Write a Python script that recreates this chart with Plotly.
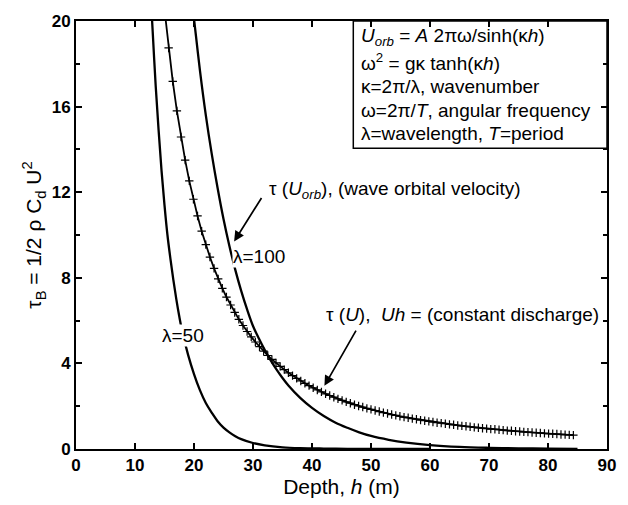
import plotly.graph_objects as go

# Bed shear stress versus water depth
# tau(U): constant-discharge flow (Uh = const), sampled every 0.7 m
depth_u = [15.0, 15.7, 16.4, 17.1, 17.8, 18.5, 19.2, 19.9, 20.6, 21.3,
           22.0, 22.7, 23.4, 24.1, 24.8, 25.5, 26.2, 26.9, 27.6, 28.3,
           29.0, 29.7, 30.4, 31.1, 31.8, 32.5, 33.2, 33.9, 34.6, 35.3,
           36.0, 36.7, 37.4, 38.1, 38.8, 39.5, 40.2, 40.9, 41.6, 42.3,
           43.0, 43.7, 44.4, 45.1, 45.8, 46.5, 47.2, 47.9, 48.6, 49.3,
           50.0, 50.7, 51.4, 52.1, 52.8, 53.5, 54.2, 54.9, 55.6, 56.3,
           57.0, 57.7, 58.4, 59.1, 59.8, 60.5, 61.2, 61.9, 62.6, 63.3,
           64.0, 64.7, 65.4, 66.1, 66.8, 67.5, 68.2, 68.9, 69.6, 70.3,
           71.0, 71.7, 72.4, 73.1, 73.8, 74.5, 75.2, 75.9, 76.6, 77.3,
           78.0, 78.7, 79.4, 80.1, 80.8, 81.5, 82.2, 82.9, 83.6, 84.3]
tau_u = [20.53, 18.74, 17.18, 15.80, 14.58, 13.50, 12.53, 11.67, 10.89, 10.18,
         9.55, 8.97, 8.44, 7.95, 7.51, 7.10, 6.73, 6.38, 6.06, 5.77,
         5.49, 5.24, 5.00, 4.78, 4.57, 4.37, 4.19, 4.02, 3.86, 3.71,
         3.56, 3.43, 3.30, 3.18, 3.07, 2.96, 2.86, 2.76, 2.67, 2.58,
         2.50, 2.42, 2.34, 2.27, 2.20, 2.14, 2.07, 2.01, 1.96, 1.90,
         1.85, 1.80, 1.75, 1.70, 1.66, 1.61, 1.57, 1.53, 1.49, 1.46,
         1.42, 1.39, 1.35, 1.32, 1.29, 1.26, 1.23, 1.21, 1.18, 1.15,
         1.13, 1.10, 1.08, 1.06, 1.04, 1.01, 0.99, 0.97, 0.95, 0.93,
         0.92, 0.90, 0.88, 0.86, 0.85, 0.83, 0.82, 0.80, 0.79, 0.77,
         0.76, 0.75, 0.73, 0.72, 0.71, 0.70, 0.68, 0.67, 0.66, 0.65]

# tau(U_orb) for wavelength 50 m
depth_l50 = [12.6, 13.0, 13.5, 14.0, 14.5, 15.0, 15.5, 16.0, 16.5, 17.0,
             17.5, 18.0, 19.0, 20.0, 21.0, 22.0, 23.0, 24.0, 25.0, 26.0,
             27.0, 28.0, 30.0, 32.0, 35.0, 38.0, 42.0, 46.0, 50.0, 55.0, 60.0]
tau_l50 = [21.5, 19.5, 17.0, 14.9, 13.0, 11.4, 10.0, 8.9, 7.9, 7.0,
           6.2, 5.5, 4.4, 3.5, 2.75, 2.15, 1.7, 1.3, 1.0, 0.78,
           0.6, 0.46, 0.28, 0.17, 0.08, 0.04, 0.02, 0.01, 0.005, 0.002, 0.001]

# tau(U_orb) for wavelength 100 m
depth_l100 = [19.6, 20.0, 20.5, 21.0, 22.0, 23.0, 24.0, 25.0, 26.0, 27.0,
              28.0, 29.0, 30.0, 31.0, 32.0, 33.0, 34.0, 35.0, 36.0, 38.0,
              40.0, 42.0, 44.0, 46.0, 48.0, 50.0, 53.0, 56.0, 60.0, 65.0,
              70.0, 75.0, 80.0, 85.0]
tau_l100 = [21.0, 20.1, 18.9, 17.7, 15.6, 13.8, 12.2, 10.75, 9.49, 8.37,
            7.39, 6.52, 5.75, 5.16, 4.62, 4.14, 3.71, 3.32, 2.97, 2.39,
            1.92, 1.54, 1.23, 0.99, 0.78, 0.61, 0.43, 0.30, 0.185, 0.10,
            0.056, 0.031, 0.017, 0.009]

x_ticks = [0, 10, 20, 30, 40, 50, 60, 70, 80, 90]
y_ticks = [0, 4, 8, 12, 16, 20]

FONT = "Liberation Sans, Arial, sans-serif"
TXT = 19

fig = go.Figure()

fig.add_trace(go.Scatter(
    x=depth_l50, y=tau_l50, mode="lines", line_shape="spline",
    line=dict(color="black", width=2.3), showlegend=False,
))
fig.add_trace(go.Scatter(
    x=depth_l100, y=tau_l100, mode="lines", line_shape="spline",
    line=dict(color="black", width=2.3), showlegend=False,
))
fig.add_trace(go.Scatter(
    x=depth_u, y=tau_u, mode="lines+markers",
    line=dict(color="black", width=1.8),
    marker=dict(symbol="cross-thin", size=6,
                line=dict(color="black", width=1.2)),
    showlegend=False,
))

# Formula box in the upper-right corner
fig.add_shape(type="rect", xref="x", yref="y", x0=47, x1=90, y0=14.05, y1=20,
              line=dict(color="black", width=1.5), fillcolor="white", layer="below")

box_lines = [
    "<i>U</i><sub><i>orb</i></sub> = <i>A</i> 2πω/sinh(κ<i>h</i>)",
    "ω<sup>2</sup> = gκ tanh(κ<i>h</i>)",
    "κ=2π/λ, wavenumber",
    "ω=2π/<i>T</i>, angular frequency",
    "λ=wavelength, <i>T</i>=period",
]
box_y = [19.25, 18.08, 16.93, 15.83, 14.74]
for txt, yy in zip(box_lines, box_y):
    fig.add_annotation(x=48.0, y=yy, xref="x", yref="y", text=txt,
                       showarrow=False, xanchor="left", yanchor="middle",
                       font=dict(family=FONT, size=TXT, color="black"))

# Curve labels (white background breaks the line underneath)
fig.add_annotation(x=18.2, y=5.3, text="λ=50", showarrow=False,
                   bgcolor="white", borderpad=0,
                   font=dict(family=FONT, size=TXT, color="black"))
fig.add_annotation(x=31.0, y=9.0, text="λ=100", showarrow=False,
                   bgcolor="white", borderpad=0,
                   font=dict(family=FONT, size=TXT, color="black"))

# Series descriptions with pointer arrows
fig.add_annotation(x=32.4, y=12.1, xanchor="left", yanchor="middle",
                   text="τ (<i>U</i><sub><i>orb</i></sub>), (wave orbital velocity)",
                   showarrow=False,
                   font=dict(family=FONT, size=TXT, color="black"))
fig.add_annotation(x=26.8, y=9.7, ax=31.6, ay=11.8, axref="x", ayref="y",
                   text="", showarrow=True, arrowhead=2, arrowsize=1.2,
                   arrowwidth=1.7, arrowcolor="black")

fig.add_annotation(x=42.0, y=6.3, xanchor="left", yanchor="middle",
                   text="τ (<i>U</i>),  <i>Uh</i> = (constant discharge)",
                   showarrow=False,
                   font=dict(family=FONT, size=TXT, color="black"))
fig.add_annotation(x=42.1, y=2.95, ax=47.6, ay=5.6, axref="x", ayref="y",
                   text="", showarrow=True, arrowhead=2, arrowsize=1.2,
                   arrowwidth=1.7, arrowcolor="black")

fig.update_layout(
    width=628, height=505,
    margin=dict(l=76, r=14, t=15, b=53),
    paper_bgcolor="white", plot_bgcolor="white",
    font=dict(family=FONT, color="black"),
)

fig.update_xaxes(
    range=[0, 90], tickvals=x_ticks, ticks="inside", ticklen=6,
    tickwidth=1.5, tickcolor="black",
    showline=True, linewidth=2, linecolor="black", mirror="ticks",
    showgrid=False, zeroline=False,
    tickfont=dict(family=FONT, size=17, weight="bold"),
    title=dict(text="Depth, <i>h</i> (m)", standoff=3,
               font=dict(family=FONT, size=21)),
)
fig.update_yaxes(
    range=[0, 20], tickvals=y_ticks, ticks="inside", ticklen=6,
    tickwidth=1.5, tickcolor="black",
    minor=dict(dtick=2, tick0=0, ticks="inside", ticklen=4, tickcolor="black"),
    showline=True, linewidth=2, linecolor="black", mirror="ticks",
    showgrid=False, zeroline=False,
    tickfont=dict(family=FONT, size=17, weight="bold"),
    title=dict(text="τ<sub>B</sub> = 1/2 ρ C<sub>d</sub> U<sup>2</sup>", standoff=4,
               font=dict(family=FONT, size=21)),
)

fig.write_html("out.html")
